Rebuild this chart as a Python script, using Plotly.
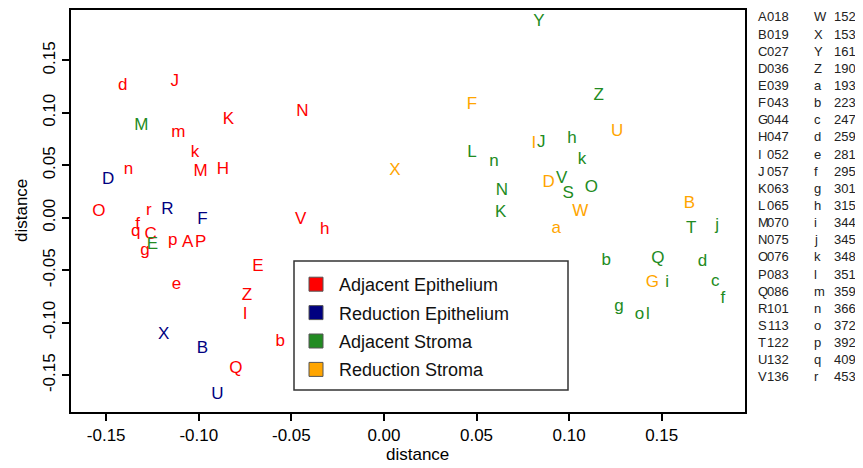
import plotly.graph_objects as go

# ---------------- data ----------------
groups = ["Adjacent Epithelium", "Reduction Epithelium", "Adjacent Stroma", "Reduction Stroma"]
group_colors = ["#FF0000", "#000080", "#228B22", "#FFA500"]

adj_epi_labels = ["d", "J", "m", "K", "N", "k", "M", "H", "n", "O", "r", "V", "h", "f", "q", "C",
                  "g", "p", "A", "P", "E", "e", "Z", "I", "b", "Q"]
adj_epi_x = [-0.141, -0.113, -0.111, -0.084, -0.044, -0.102, -0.099, -0.087, -0.138, -0.154, -0.127,
             -0.045, -0.032, -0.133, -0.134, -0.126, -0.129, -0.114, -0.106, -0.099, -0.068, -0.112,
             -0.074, -0.075, -0.056, -0.080]
adj_epi_y = [0.126, 0.130, 0.081, 0.093, 0.101, 0.062, 0.044, 0.046, 0.046, 0.006, 0.007, -0.002,
             -0.011, -0.007, -0.013, -0.016, -0.031, -0.022, -0.024, -0.024, -0.047, -0.064,
             -0.074, -0.092, -0.118, -0.144]

red_epi_labels = ["D", "R", "F", "X", "B", "U"]
red_epi_x = [-0.149, -0.117, -0.098, -0.119, -0.098, -0.090]
red_epi_y = [0.036, 0.008, -0.002, -0.111, -0.125, -0.169]

adj_str_labels = ["M", "E", "Y", "Z", "J", "h", "L", "k", "n", "V", "O", "S", "N", "K", "T", "j",
                  "b", "Q", "d", "i", "c", "f", "g", "o", "l"]
adj_str_x = [-0.131, -0.125, 0.0837, 0.116, 0.085, 0.1015, 0.0475, 0.107, 0.0594, 0.096, 0.112,
             0.0995, 0.0637, 0.063, 0.166, 0.180, 0.120, 0.148, 0.172, 0.153, 0.179, 0.183,
             0.127, 0.138, 0.1425]
adj_str_y = [0.088, -0.026, 0.187, 0.116, 0.072, 0.075, 0.062, 0.055, 0.053, 0.037, 0.029, 0.023,
             0.026, 0.005, -0.010, -0.008, -0.041, -0.039, -0.042, -0.062, -0.061, -0.077,
             -0.085, -0.092, -0.092]

red_str_labels = ["F", "X", "I", "D", "W", "B", "a", "G", "U"]
red_str_x = [0.0475, 0.0059, 0.081, 0.089, 0.106, 0.165, 0.093, 0.145, 0.126]
red_str_y = [0.108, 0.045, 0.071, 0.033, 0.006, 0.013, -0.010, -0.062, 0.082]

key_letters_1 = ["A", "B", "C", "D", "E", "F", "G", "H", "I", "J", "K", "L", "M", "N", "O", "P",
                 "Q", "R", "S", "T", "U", "V"]
key_numbers_1 = ["018", "019", "027", "036", "039", "043", "044", "047", "052", "057", "063", "065",
                 "070", "075", "076", "083", "086", "101", "113", "122", "132", "136"]
key_letters_2 = ["W", "X", "Y", "Z", "a", "b", "c", "d", "e", "f", "g", "h", "i", "j", "k", "l",
                 "m", "n", "o", "p", "q", "r"]
key_numbers_2 = ["152", "153", "161", "190", "193", "223", "247", "259", "281", "295", "301", "315",
                 "344", "345", "348", "351", "359", "366", "372", "392", "409", "453"]

x_ticks = [-0.15, -0.10, -0.05, 0.00, 0.05, 0.10, 0.15]
y_ticks = [-0.15, -0.10, -0.05, 0.00, 0.05, 0.10, 0.15]

# ---------------- figure ----------------
OFF = 8                      # page body margin of the html page
W, H = 863 - OFF, 468 - OFF  # figure size so that it fits the window
# plot area in window pixels: x 71..745, y 10..412
ML, MT = 71 - OFF, 10 - OFF
MR, MB = W - (745 - OFF), H - (412 - OFF)
PW, PH = W - ML - MR, H - MT - MB

FONT = "Liberation Sans, Arial, Helvetica, sans-serif"

fig = go.Figure()
series = [
    (adj_epi_labels, adj_epi_x, adj_epi_y),
    (red_epi_labels, red_epi_x, red_epi_y),
    (adj_str_labels, adj_str_x, adj_str_y),
    (red_str_labels, red_str_x, red_str_y),
]
for (labs, xs, ys), name, col in zip(series, groups, group_colors):
    fig.add_trace(go.Scatter(
        x=xs, y=ys, text=labs, mode="text", textposition="middle center",
        textfont=dict(family=FONT, size=17, color=col),
        showlegend=False, hoverinfo="text", name=name,
    ))

# legend entries
for i, (name, col) in enumerate(zip(groups, group_colors)):
    fig.add_trace(go.Scatter(
        x=[None], y=[None], mode="markers", name=name, legendgroup=f"g{i}",
        marker=dict(symbol="square", size=14, color=col, line=dict(color="#555555", width=1)),
    ))


def px2paper(px, py):
    """window pixel -> paper coordinate"""
    fx, fy = px - OFF, py - OFF
    return (fx - ML) / PW, (H - MB - fy) / PH


# key on the right side
for i in range(len(key_letters_1)):
    py = 17 + i * 17.14
    for xp, txt, anc in [(756, key_letters_1[i], "left"), (791, key_numbers_1[i], "right"),
                         (812, key_letters_2[i], "left"), (858, key_numbers_2[i], "right")]:
        ax, ay = px2paper(xp, py)
        fig.add_annotation(x=ax, y=ay, xref="paper", yref="paper", text=txt, showarrow=False,
                           xanchor=anc, yanchor="middle",
                           font=dict(family=FONT, size=13, color="#222222"))

# axis titles
tx, ty = px2paper(418, 455)
fig.add_annotation(x=tx, y=ty, xref="paper", yref="paper", text="distance", showarrow=False,
                   xanchor="center", yanchor="middle", font=dict(family=FONT, size=17, color="black"))
tx, ty = px2paper(21, 211)
fig.add_annotation(x=tx, y=ty, xref="paper", yref="paper", text="distance", showarrow=False,
                   textangle=-90, xanchor="center", yanchor="middle",
                   font=dict(family=FONT, size=17, color="black"))

# legend frame
x0, y1 = px2paper(294, 261)
x1, y0 = px2paper(568, 390)
fig.add_shape(type="rect", xref="paper", yref="paper", x0=x0, x1=x1, y0=y0, y1=y1,
              line=dict(color="#333333", width=1.5), fillcolor="white", layer="below")

lx, ly = px2paper(293, 266)
fig.update_layout(
    width=W, height=H,
    margin=dict(l=ML, r=MR, t=MT, b=MB, autoexpand=False),
    paper_bgcolor="white", plot_bgcolor="white",
    font=dict(family=FONT, size=17, color="black"),
    showlegend=True,
    legend=dict(x=lx, y=ly, xanchor="left", yanchor="top",
                borderwidth=0, bgcolor="rgba(0,0,0,0)",
                font=dict(family=FONT, size=18, color="#111111"),
                itemwidth=36, tracegroupgap=2),
    xaxis=dict(range=[-0.169, 0.195], tickvals=x_ticks, ticktext=[f"{v:.2f}" for v in x_ticks],
               showgrid=False, zeroline=False, showline=True, mirror=True, linecolor="black",
               linewidth=1.5, ticks="outside", ticklen=7, tickwidth=1.5, tickcolor="black",
               automargin=False, tickfont=dict(size=17)),
    yaxis=dict(range=[-0.185, 0.198], tickvals=y_ticks, ticktext=[f"{v:.2f}" for v in y_ticks],
               showgrid=False, zeroline=False, showline=True, mirror=True, linecolor="black",
               linewidth=1.5, ticks="outside", ticklen=7, tickwidth=1.5, tickcolor="black",
               tickangle=-90, automargin=False, tickfont=dict(size=17)),
)

fig.write_html("out.html")
